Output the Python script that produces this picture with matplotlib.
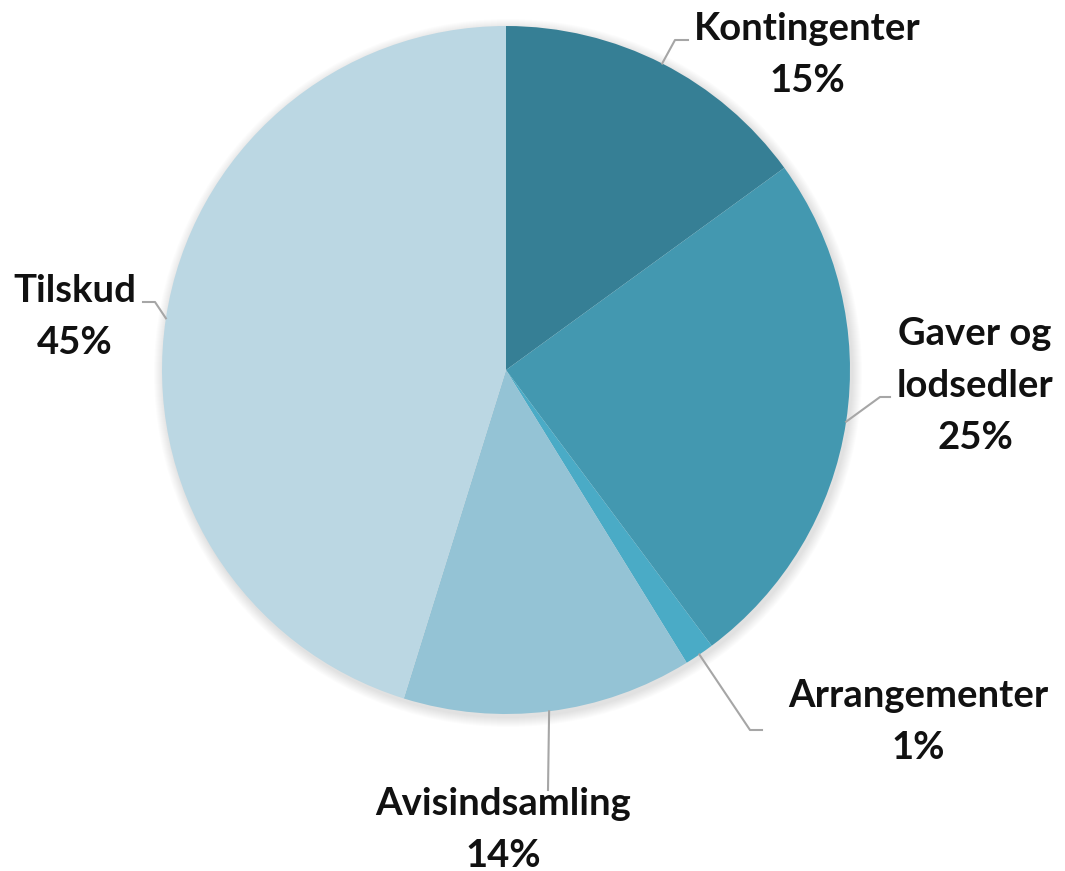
import numpy as np
import matplotlib.pyplot as plt
from matplotlib.patches import Circle

# Data
labels = ['Kontingenter', 'Gaver og\nlodsedler', 'Arrangementer', 'Avisindsamling', 'Tilskud']
values = [15.0, 24.8, 1.4, 13.6, 45.2]
pct_labels = ['15%', '25%', '1%', '14%', '45%']
colors = ['#367f95', '#4398b0', '#4aabc6', '#94c3d5', '#bbd7e3']

W, H = 1065, 871
fig = plt.figure(figsize=(W / 100, H / 100), dpi=100)
ax = fig.add_axes([0, 0, 1, 1])

cx, cy, r = 506, H - 370, 344

# soft shadow behind the pie
for k in range(10):
    ax.add_patch(Circle((cx + 2, cy - 3), r + 10 - k, color='black', alpha=0.012, lw=0, zorder=0))

wedges, _ = ax.pie(values, colors=colors, startangle=90, counterclock=False,
                   center=(cx, cy), radius=r, frame=True,
                   wedgeprops=dict(linewidth=0))
for w in wedges:
    w.set_zorder(1)
ax.set_xlim(0, W)
ax.set_ylim(0, H)
ax.set_aspect('equal')
ax.axis('off')

# label layout: text centre (x, y of first line), elbow point, end of horizontal segment
text_pos = [(807, 29), (975, 334), (918, 696), (503, 804), (75, 291)]
elbows = [(675, 40), (880, 397), (750, 730), (548, 790), (155, 302)]
ends = [(688, 40), (890, 397), (762, 730), (548, 790), (143, 302)]

for w, lab, pct, tp, el, en in zip(wedges, labels, pct_labels, text_pos, elbows, ends):
    ang = np.deg2rad((w.theta1 + w.theta2) / 2)
    ax_, ay_ = cx + r * np.cos(ang), cy + r * np.sin(ang)
    ax.plot([ax_, el[0], en[0]], [ay_, H - el[1], H - en[1]], color='#a6a6a6', lw=1.5, zorder=2)
    lines = lab.split('\n') + [pct]
    for i, t in enumerate(lines):
        ax.text(tp[0], H - (tp[1] + 52 * i), t, ha='center', va='center',
                fontsize=27.5, fontweight='bold', family='Lato', color='#111111')

fig.savefig('out.png', dpi=100)
